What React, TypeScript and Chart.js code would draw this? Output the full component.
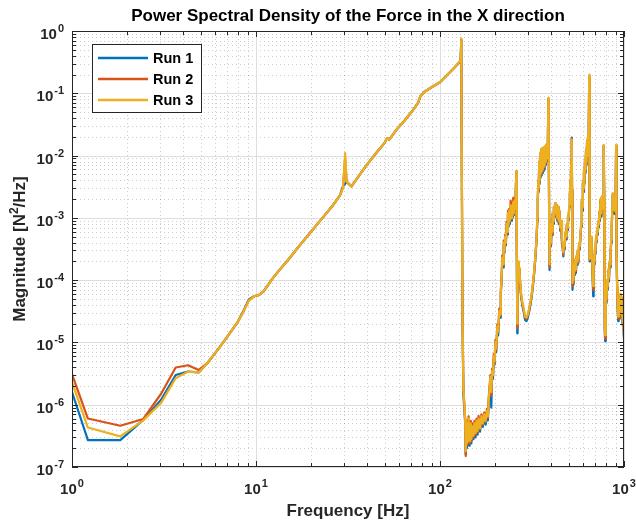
import React, { useEffect, useRef } from "react";
import { Chart, registerables } from "chart.js";

Chart.register(...registerables);

// ---------- data ----------
const FREQ = [
  1, 1.22, 1.83, 2.44, 3.05, 3.66, 4.27, 4.88, 5.49, 6.1,
  6.71, 7.32, 7.93, 8.54, 9.15, 9.76, 10.4, 11, 12.2, 13.4,
  15, 17, 20, 23, 26, 28.6, 29.7, 30.5, 31.1, 33,
  36, 40, 45, 50, 51.5, 53, 58, 64.4, 70, 76,
  78, 82, 90, 100, 110, 120, 129.5, 130.5, 132.5, 134,
  135.5, 137, 138, 139, 140, 141, 142, 143, 144, 145,
  146, 147, 148, 150, 152, 154, 156, 158, 160, 162,
  165, 168, 171, 174, 177, 180, 182, 184, 186, 188,
  190, 192, 194, 196, 198, 200, 202, 205, 207, 210,
  212, 214, 216, 218, 220, 222, 224, 226, 228, 230,
  232, 234, 236, 238, 240, 242, 244, 246, 248, 250,
  252, 254, 256, 258, 260, 261, 262, 263, 264, 266,
  268, 270, 273, 276, 280, 285, 290, 295, 300, 305,
  310, 315, 320, 325, 330, 335, 338, 340, 342, 344,
  346, 348, 350, 352, 354, 356, 358, 360, 362, 364,
  366, 368, 370, 372, 374, 376, 378, 380, 382, 385,
  388, 390, 392, 393, 395, 398, 401, 404, 407, 410,
  413, 416, 419, 422, 426, 430, 434, 438, 442, 446,
  450, 455, 460, 465, 468, 472, 476, 480, 484, 488,
  492, 496, 500, 504, 508, 512, 515, 518, 520, 522,
  524, 526, 529, 532, 536, 540, 544, 548, 552, 556,
  560, 565, 570, 575, 580, 585, 590, 594, 598, 602,
  606, 610, 614, 618, 622, 626, 630, 634, 638, 642,
  645, 647, 649, 651, 653, 656, 660, 664, 668, 672,
  676, 680, 684, 688, 692, 696, 700, 705, 710, 715,
  720, 725, 730, 735, 740, 745, 750, 755, 760, 765,
  770, 774, 778, 781, 784, 788, 790, 794, 798, 804,
  810, 816, 822, 828, 834, 840, 846, 852, 858, 864,
  868, 872, 876, 880, 885, 890, 895, 900, 903, 906,
  909, 913, 918, 924, 930, 936, 942, 948, 954, 960,
  966, 972, 978, 984, 990, 995, 1000,
];

const RUN1 = [
  1.6e-6, 2.7e-7, 2.7e-7, 5.7e-7, 1.2e-6, 3.0e-6, 3.4e-6, 3.3e-6, 4.8e-6, 7.2e-6,
  1.05e-5, 1.5e-5, 2.1e-5, 3.2e-5, 4.9e-5, 5.5e-5, 5.8e-5, 6.6e-5, 1.03e-4, 1.45e-4,
  2.15e-4, 3.4e-4, 6.1e-4, 1.0e-3, 1.55e-3, 2.3e-3, 3.2e-3, 3.5e-3, 3.8e-3, 3.2e-3,
  4.6e-3, 7.1e-3, 1.1e-2, 1.6e-2, 1.9e-2, 1.8e-2, 2.6e-2, 3.7e-2, 5.0e-2, 7.0e-2,
  8.8e-2, 1.05e-1, 1.25e-1, 1.5e-1, 2.0e-1, 2.6e-1, 3.3e-1, 7.2e-1, 2.5e-5, 1.5e-6,
  9e-7, 5e-7, 1.6e-7, 3.8e-7, 2e-7, 4.4e-7, 2.5e-7, 5.4e-7, 2.2e-7, 4.2e-7,
  2.6e-7, 4.5e-7, 2.4e-7, 4e-7, 2.8e-7, 4.5e-7, 3e-7, 5e-7, 3.3e-7, 5.4e-7,
  3.7e-7, 6e-7, 4.4e-7, 6.4e-7, 4.8e-7, 7.2e-7, 5.6e-7, 1.1e-6, 1.6e-6, 2.5e-6,
  9e-7, 3.2e-6, 2.6e-6, 5.5e-6, 4.4e-6, 9e-6, 7e-6, 1.6e-5, 1.3e-5, 2.9e-5,
  2.5e-5, 6e-5, 9e-5, 2.1e-4, 1.6e-4, 3.7e-4, 2.7e-4, 4.6e-4, 3.6e-4, 7.5e-4,
  5.4e-4, 1.1e-3, 7.2e-4, 1.2e-3, 8e-4, 1.4e-3, 9e-4, 1.4e-3, 1e-3, 1.6e-3,
  1.1e-3, 1.8e-3, 1.3e-3, 2.5e-3, 5.3e-3, 1.3e-3, 2.5e-4, 1.4e-5, 7e-5, 1.8e-4,
  1.25e-4, 1.5e-4, 8e-5, 5.4e-5, 4e-5, 3.1e-5, 2.3e-5, 2.2e-5, 2.5e-5, 3.1e-5,
  4e-5, 5.4e-5, 8.2e-5, 1.3e-4, 2.3e-4, 4.6e-4, 9e-4, 1.8e-3, 3.7e-3, 2.6e-3,
  7.5e-3, 3.5e-3, 1.05e-2, 4.4e-3, 1.15e-2, 4.8e-3, 1.25e-2, 5.2e-3, 1.25e-2, 5.6e-3,
  1.3e-2, 6e-3, 1.35e-2, 6.5e-3, 1.35e-2, 7e-3, 1.45e-2, 8e-3, 1.45e-2, 1e-2,
  8e-2, 1.4e-2, 9e-4, 1.45e-4, 2.6e-4, 4.5e-4, 3.5e-4, 7.5e-4, 5.3e-4, 1.15e-3,
  8e-4, 1.5e-3, 1e-3, 1.7e-3, 1.1e-3, 1.6e-3, 9e-4, 1.45e-3, 8e-4, 1.25e-3,
  6.2e-4, 8.5e-4, 4e-4, 3.1e-4, 2.4e-4, 3.6e-4, 3.1e-4, 5.4e-4, 4.5e-4, 7.2e-4,
  6.3e-4, 1e-3, 9e-4, 1.5e-3, 2.3e-3, 3.7e-3, 5.6e-3, 8.5e-3, 1.95e-2, 2.7e-3,
  4.2e-4, 7e-5, 1.1e-4, 8.5e-5, 1.6e-4, 1.2e-4, 2e-4, 1.3e-4, 2.3e-4, 1.75e-4,
  2.7e-4, 1.9e-4, 3.6e-4, 3.1e-4, 5e-4, 7.2e-4, 1.8e-3, 1.3e-3, 3.6e-3, 2.6e-3,
  5.4e-3, 3.5e-3, 8.3e-3, 5.2e-3, 1.2e-2, 7e-3, 1.7e-2, 8.8e-3, 2.1e-2, 1.05e-2,
  2.8e-2, 1.75e-1, 9e-3, 8.5e-4, 2e-4, 3.6e-4, 2.6e-4, 4.5e-4, 2.2e-4, 1.7e-4,
  1e-4, 5.5e-5, 1.3e-4, 2.2e-4, 1.75e-4, 3.1e-4, 2.6e-4, 4.5e-4, 4e-4, 6.3e-4,
  5.3e-4, 8.2e-4, 7e-4, 1.2e-3, 9e-4, 1.85e-3, 1.05e-3, 2e-3, 1.25e-3, 2.1e-3,
  1.8e-3, 3.2e-3, 1.42e-2, 1.8e-3, 2.6e-4, 1.6e-5, 1.05e-5, 2.6e-5, 5.2e-5, 4.3e-5,
  8.8e-5, 7e-5, 1.35e-4, 9.5e-5, 1.8e-4, 1.6e-4, 2.7e-4, 4e-4, 7.2e-4, 1.4e-3,
  2.3e-3, 1.3e-3, 2e-3, 1.2e-3, 1.8e-3, 1.15e-3, 2e-3, 1.45e-3, 2.8e-3, 1.42e-2,
  1.8e-3, 2.6e-4, 7e-5, 3.4e-5, 2.2e-5, 3e-5, 2.4e-5, 4e-5, 5.4e-5, 3.5e-5,
  5e-5, 3e-5, 2.4e-5, 1.9e-5, 2.2e-5, 1.6e-5, 1.15e-5,
];

const RUN2 = [
  3.1e-6, 6.0e-7, 4.6e-7, 5.9e-7, 1.5e-6, 3.96e-6, 4.3e-6, 3.6e-6, 4.8e-6, 7.2e-6,
  1.05e-5, 1.5e-5, 2.1e-5, 3.1e-5, 4.8e-5, 5.5e-5, 5.8e-5, 6.6e-5, 1.03e-4, 1.45e-4,
  2.15e-4, 3.4e-4, 6.1e-4, 1.0e-3, 1.55e-3, 2.3e-3, 3.1e-3, 9.0e-3, 3.8e-3, 3.2e-3,
  4.6e-3, 7.1e-3, 1.1e-2, 1.6e-2, 1.9e-2, 1.8e-2, 2.6e-2, 3.7e-2, 5.0e-2, 7.0e-2,
  8.8e-2, 1.05e-1, 1.25e-1, 1.5e-1, 2.0e-1, 2.6e-1, 3.35e-1, 7.3e-1, 2.8e-5, 1.7e-6,
  1.05e-6, 5.6e-7, 1.5e-7, 5e-7, 2.2e-7, 5.6e-7, 2.8e-7, 6.5e-7, 2.4e-7, 5.3e-7,
  2.8e-7, 5.5e-7, 2.6e-7, 5e-7, 3e-7, 5.5e-7, 3.3e-7, 6e-7, 3.6e-7, 6.6e-7,
  4e-7, 7e-7, 4.8e-7, 7.5e-7, 5.3e-7, 8.6e-7, 6.2e-7, 1.3e-6, 2e-6, 3e-6,
  1.4e-6, 3.8e-6, 2.9e-6, 6.5e-6, 4.8e-6, 1.1e-5, 7.6e-6, 1.95e-5, 1.45e-5, 3.5e-5,
  2.7e-5, 7e-5, 1.05e-4, 2.5e-4, 1.75e-4, 4.3e-4, 2.9e-4, 5.4e-4, 3.9e-4, 8.6e-4,
  5.8e-4, 1.3e-3, 7.8e-4, 1.4e-3, 8.8e-4, 1.9e-3, 9.7e-4, 1.75e-3, 1.05e-3, 2.1e-3,
  1.15e-3, 2e-3, 1.35e-3, 2.7e-3, 5.6e-3, 1.4e-3, 2.8e-4, 1.7e-5, 7.5e-5, 1.9e-4,
  1.35e-4, 1.55e-4, 8.5e-5, 5.8e-5, 4.3e-5, 3.3e-5, 2.5e-5, 2.4e-5, 2.7e-5, 3.3e-5,
  4.3e-5, 5.8e-5, 8.7e-5, 1.35e-4, 2.4e-4, 4.8e-4, 9.5e-4, 1.9e-3, 3.9e-3, 2.8e-3,
  7.8e-3, 3.8e-3, 1.08e-2, 4.7e-3, 1.18e-2, 5.2e-3, 1.28e-2, 5.6e-3, 1.28e-2, 6.1e-3,
  1.33e-2, 6.6e-3, 1.38e-2, 7.1e-3, 1.38e-2, 7.6e-3, 1.48e-2, 8.5e-3, 1.48e-2, 1.05e-2,
  8.2e-2, 1.45e-2, 9.5e-4, 1.6e-4, 2.8e-4, 4.7e-4, 3.7e-4, 7.8e-4, 5.6e-4, 1.18e-3,
  8.5e-4, 1.5e-3, 1.05e-3, 1.7e-3, 1.15e-3, 1.6e-3, 9.5e-4, 1.5e-3, 8.5e-4, 1.3e-3,
  6.6e-4, 8.8e-4, 4.2e-4, 3.3e-4, 2.6e-4, 3.8e-4, 3.3e-4, 5.7e-4, 4.8e-4, 7.6e-4,
  6.7e-4, 1.05e-3, 9.5e-4, 1.55e-3, 2.4e-3, 3.9e-3, 5.8e-3, 8.8e-3, 1.85e-2, 2.8e-3,
  4.6e-4, 8e-5, 1.2e-4, 9.2e-5, 1.7e-4, 1.3e-4, 2.1e-4, 1.4e-4, 2.4e-4, 1.9e-4,
  2.9e-4, 2e-4, 3.8e-4, 3.3e-4, 5.3e-4, 7.6e-4, 1.9e-3, 1.4e-3, 3.8e-3, 2.8e-3,
  5.7e-3, 3.8e-3, 8.7e-3, 5.6e-3, 1.25e-2, 7.5e-3, 1.75e-2, 9.4e-3, 2.15e-2, 1.1e-2,
  2.9e-2, 1.85e-1, 9.5e-3, 9.2e-4, 2.1e-4, 3.8e-4, 2.8e-4, 4.8e-4, 2.4e-4, 1.85e-4,
  1.1e-4, 7e-5, 1.4e-4, 2.4e-4, 1.9e-4, 3.3e-4, 2.8e-4, 4.8e-4, 4.3e-4, 6.7e-4,
  5.7e-4, 8.6e-4, 7.5e-4, 1.25e-3, 9.5e-4, 1.95e-3, 1.15e-3, 2.1e-3, 1.35e-3, 2.2e-3,
  1.9e-3, 3.4e-3, 1.45e-2, 1.9e-3, 2.8e-4, 1.8e-5, 1.15e-5, 2.8e-5, 5.6e-5, 4.7e-5,
  9.4e-5, 7.5e-5, 1.42e-4, 1.03e-4, 1.9e-4, 1.7e-4, 2.85e-4, 4.3e-4, 7.6e-4, 1.45e-3,
  2.4e-3, 1.4e-3, 2.1e-3, 1.3e-3, 1.9e-3, 1.25e-3, 2.1e-3, 1.5e-3, 2.9e-3, 1.45e-2,
  1.9e-3, 2.8e-4, 7.5e-5, 3.7e-5, 2.4e-5, 3.3e-5, 2.6e-5, 4.3e-5, 5.7e-5, 3.8e-5,
  5.2e-5, 3.3e-5, 2.6e-5, 2.1e-5, 2.4e-5, 1.7e-5, 1.25e-5,
];

const RUN3 = [
  2.3e-6, 4.3e-7, 3.1e-7, 5.6e-7, 1.07e-6, 2.66e-6, 3.4e-6, 3.3e-6, 4.8e-6, 7.2e-6,
  1.05e-5, 1.5e-5, 2.1e-5, 3.1e-5, 4.7e-5, 5.5e-5, 5.8e-5, 6.6e-5, 1.03e-4, 1.45e-4,
  2.15e-4, 3.4e-4, 6.1e-4, 1.0e-3, 1.55e-3, 2.3e-3, 3.0e-3, 1.1e-2, 3.8e-3, 3.2e-3,
  4.6e-3, 7.1e-3, 1.1e-2, 1.6e-2, 1.9e-2, 1.8e-2, 2.6e-2, 3.7e-2, 5.0e-2, 7.0e-2,
  8.8e-2, 1.05e-1, 1.25e-1, 1.5e-1, 2.0e-1, 2.6e-1, 3.4e-1, 7.6e-1, 3e-5, 1.8e-6,
  1.1e-6, 6e-7, 1.8e-7, 4.5e-7, 2.4e-7, 5e-7, 3e-7, 6e-7, 2.6e-7, 4.8e-7,
  3e-7, 5e-7, 2.8e-7, 4.5e-7, 3.2e-7, 5e-7, 3.5e-7, 5.5e-7, 3.8e-7, 6e-7,
  4.2e-7, 6.5e-7, 5e-7, 7e-7, 5.5e-7, 8e-7, 6.5e-7, 1.2e-6, 1.8e-6, 2.8e-6,
  1.6e-6, 3.5e-6, 3e-6, 6e-6, 5e-6, 1e-5, 8e-6, 1.8e-5, 1.5e-5, 3.2e-5,
  2.8e-5, 6.5e-5, 1e-4, 2.3e-4, 1.8e-4, 4e-4, 3e-4, 5e-4, 4e-4, 8e-4,
  6e-4, 1.2e-3, 8e-4, 1.3e-3, 9e-4, 1.6e-3, 1e-3, 1.5e-3, 1.1e-3, 1.8e-3,
  1.2e-3, 1.9e-3, 1.4e-3, 2.6e-3, 5.5e-3, 1.5e-3, 3e-4, 2e-5, 8e-5, 2e-4,
  1.4e-4, 1.6e-4, 9e-5, 6e-5, 4.5e-5, 3.5e-5, 2.6e-5, 2.5e-5, 2.8e-5, 3.5e-5,
  4.5e-5, 6e-5, 9e-5, 1.4e-4, 2.5e-4, 5e-4, 1e-3, 2e-3, 4e-3, 3e-3,
  8e-3, 4e-3, 1.1e-2, 5e-3, 1.2e-2, 5.5e-3, 1.3e-2, 6e-3, 1.3e-2, 6.5e-3,
  1.35e-2, 7e-3, 1.4e-2, 7.5e-3, 1.4e-2, 8e-3, 1.5e-2, 9e-3, 1.5e-2, 1.1e-2,
  8.3e-2, 1.5e-2, 1e-3, 1.8e-4, 3e-4, 5e-4, 4e-4, 8e-4, 6e-4, 1.2e-3,
  9e-4, 1.5e-3, 1.1e-3, 1.7e-3, 1.2e-3, 1.6e-3, 1e-3, 1.5e-3, 9e-4, 1.3e-3,
  7e-4, 9e-4, 4.5e-4, 3.5e-4, 2.8e-4, 4e-4, 3.5e-4, 6e-4, 5e-4, 8e-4,
  7e-4, 1.1e-3, 1e-3, 1.6e-3, 2.5e-3, 4e-3, 6e-3, 9e-3, 1.8e-2, 3e-3,
  5e-4, 9e-5, 1.3e-4, 1e-4, 1.8e-4, 1.4e-4, 2.2e-4, 1.5e-4, 2.5e-4, 2e-4,
  3e-4, 2.2e-4, 4e-4, 3.5e-4, 5.5e-4, 8e-4, 2e-3, 1.5e-3, 4e-3, 3e-3,
  6e-3, 4e-3, 9e-3, 6e-3, 1.3e-2, 8e-3, 1.8e-2, 1e-2, 2.2e-2, 1.2e-2,
  3e-2, 1.97e-1, 1e-2, 1e-3, 2.2e-4, 4e-4, 3e-4, 5e-4, 2.5e-4, 2e-4,
  1.2e-4, 8e-5, 1.5e-4, 2.5e-4, 2e-4, 3.5e-4, 3e-4, 5e-4, 4.5e-4, 7e-4,
  6e-4, 9e-4, 8e-4, 1.3e-3, 1e-3, 2e-3, 1.2e-3, 2.2e-3, 1.4e-3, 2.3e-3,
  2e-3, 3.5e-3, 1.48e-2, 2e-3, 3e-4, 2e-5, 1.3e-5, 3e-5, 6e-5, 5e-5,
  1e-4, 8e-5, 1.5e-4, 1.1e-4, 2e-4, 1.8e-4, 3e-4, 4.5e-4, 8e-4, 1.5e-3,
  2.5e-3, 1.5e-3, 2.2e-3, 1.4e-3, 2e-3, 1.3e-3, 2.2e-3, 1.6e-3, 3e-3, 1.48e-2,
  2e-3, 3e-4, 8e-5, 4e-5, 2.6e-5, 3.5e-5, 2.8e-5, 4.5e-5, 6e-5, 4e-5,
  5.5e-5, 3.5e-5, 2.8e-5, 2.2e-5, 2.5e-5, 1.8e-5, 1.3e-5,
];

const SERIES_NAMES = ["Run 1", "Run 2", "Run 3"];
const SERIES_COLORS = ["#0072BD", "#D95319", "#EDB120"];
const X_TICK_EXPONENTS = [0, 1, 2, 3];
const Y_TICK_EXPONENTS = [0, -1, -2, -3, -4, -5, -6, -7];
const TITLE = "Power Spectral Density of the Force in the X direction";
const X_LABEL = "Frequency [Hz]";
const Y_LABEL_PARTS = ["Magnitude [N", "2", "/Hz]"];

const FONT = '"Liberation Sans", Arial, Helvetica, sans-serif';
const AXIS_COLOR = "#262626";

function drawPower(ctx: CanvasRenderingContext2D, exp: string, x: number, baseline: number, align: "center" | "right") {
  const baseFont = `bold 15px ${FONT}`;
  const supFont = `bold 11px ${FONT}`;
  ctx.font = baseFont;
  const wb = ctx.measureText("10").width;
  ctx.font = supFont;
  const we = ctx.measureText(exp).width;
  const total = wb + 1 + we;
  const start = align === "center" ? x - total / 2 : x - total;
  ctx.textAlign = "left";
  ctx.textBaseline = "alphabetic";
  ctx.font = baseFont;
  ctx.fillText("10", start, baseline);
  ctx.font = supFont;
  ctx.fillText(exp, start + wb + 1, baseline - 7);
}

const decorPlugin = {
  id: "matlabDecor",
  beforeDatasetsDraw(chart: any) {
    const { ctx, chartArea: a, scales } = chart;
    const xs = scales.x;
    const ys = scales.y;
    ctx.save();
    ctx.fillStyle = "#ffffff";
    ctx.fillRect(a.left, a.top, a.right - a.left, a.bottom - a.top);
    // minor grid (dotted)
    ctx.strokeStyle = "rgba(0,0,0,0.2)";
    ctx.lineWidth = 1;
    ctx.setLineDash([1, 3]);
    ctx.beginPath();
    for (let e = X_TICK_EXPONENTS[0]; e < X_TICK_EXPONENTS[X_TICK_EXPONENTS.length - 1]; e++) {
      for (let m = 2; m <= 9; m++) {
        const px = Math.round(xs.getPixelForValue(m * Math.pow(10, e))) + 0.5;
        ctx.moveTo(px, a.top);
        ctx.lineTo(px, a.bottom);
      }
    }
    for (let e = -7; e < 0; e++) {
      for (let m = 2; m <= 9; m++) {
        const py = Math.round(ys.getPixelForValue(m * Math.pow(10, e))) + 0.5;
        ctx.moveTo(a.left, py);
        ctx.lineTo(a.right, py);
      }
    }
    ctx.stroke();
    // major grid
    ctx.setLineDash([]);
    ctx.strokeStyle = "#dedede";
    ctx.beginPath();
    X_TICK_EXPONENTS.forEach((e) => {
      const px = Math.round(xs.getPixelForValue(Math.pow(10, e))) + 0.5;
      ctx.moveTo(px, a.top);
      ctx.lineTo(px, a.bottom);
    });
    Y_TICK_EXPONENTS.forEach((e) => {
      const py = Math.round(ys.getPixelForValue(Math.pow(10, e))) + 0.5;
      ctx.moveTo(a.left, py);
      ctx.lineTo(a.right, py);
    });
    ctx.stroke();
    ctx.restore();
  },
  afterDatasetsDraw(chart: any) {
    const { ctx, chartArea: a, scales } = chart;
    const xs = scales.x;
    const ys = scales.y;
    ctx.save();
    // axis box
    ctx.strokeStyle = AXIS_COLOR;
    ctx.lineWidth = 1;
    ctx.setLineDash([]);
    ctx.strokeRect(Math.round(a.left) + 0.5, Math.round(a.top) + 0.5, Math.round(a.right - a.left) - 1, Math.round(a.bottom - a.top) - 1);
    // ticks (inward, all four sides)
    ctx.beginPath();
    const majLen = 6;
    const minLen = 4;
    for (let e = X_TICK_EXPONENTS[0]; e <= X_TICK_EXPONENTS[X_TICK_EXPONENTS.length - 1]; e++) {
      for (let m = 1; m <= 9; m++) {
        const v = m * Math.pow(10, e);
        if (v > 1000) break;
        const px = Math.round(xs.getPixelForValue(v)) + 0.5;
        const len = m === 1 ? majLen : minLen;
        ctx.moveTo(px, a.bottom);
        ctx.lineTo(px, a.bottom - len);
        ctx.moveTo(px, a.top);
        ctx.lineTo(px, a.top + len);
      }
    }
    for (let e = -7; e <= 0; e++) {
      for (let m = 1; m <= 9; m++) {
        const v = m * Math.pow(10, e);
        if (v > 1) break;
        const py = Math.round(ys.getPixelForValue(v)) + 0.5;
        const len = m === 1 ? majLen : minLen;
        ctx.moveTo(a.left, py);
        ctx.lineTo(a.left + len, py);
        ctx.moveTo(a.right, py);
        ctx.lineTo(a.right - len, py);
      }
    }
    ctx.stroke();
    // tick labels
    ctx.fillStyle = AXIS_COLOR;
    X_TICK_EXPONENTS.forEach((e) => {
      const px = xs.getPixelForValue(Math.pow(10, e));
      drawPower(ctx, String(e), px, a.bottom + 27, "center");
    });
    Y_TICK_EXPONENTS.forEach((e) => {
      const py = ys.getPixelForValue(Math.pow(10, e));
      drawPower(ctx, String(e), a.left - 8, py + 8, "right");
    });
    // axis titles
    ctx.fillStyle = AXIS_COLOR;
    ctx.font = `bold 17px ${FONT}`;
    ctx.textAlign = "center";
    ctx.textBaseline = "alphabetic";
    ctx.fillText(X_LABEL, (a.left + a.right) / 2, 516);
    // y label with superscript
    const mainFont = `bold 17px ${FONT}`;
    const supFont = `bold 12px ${FONT}`;
    ctx.font = mainFont;
    const w0 = ctx.measureText(Y_LABEL_PARTS[0]).width;
    const w2 = ctx.measureText(Y_LABEL_PARTS[2]).width;
    ctx.font = supFont;
    const w1 = ctx.measureText(Y_LABEL_PARTS[1]).width;
    const totalW = w0 + w1 + w2;
    ctx.save();
    ctx.translate(25, (a.top + a.bottom) / 2);
    ctx.rotate(-Math.PI / 2);
    ctx.textAlign = "left";
    let cx = -totalW / 2;
    ctx.font = mainFont;
    ctx.fillText(Y_LABEL_PARTS[0], cx, 0);
    cx += w0;
    ctx.font = supFont;
    ctx.fillText(Y_LABEL_PARTS[1], cx, -7);
    cx += w1;
    ctx.font = mainFont;
    ctx.fillText(Y_LABEL_PARTS[2], cx, 0);
    ctx.restore();
    // title
    ctx.fillStyle = "#000000";
    ctx.font = `bold 17px ${FONT}`;
    ctx.textAlign = "center";
    ctx.fillText(TITLE, (a.left + a.right) / 2, 21);
    // legend
    const lx = 92.5;
    const ly = 44.5;
    ctx.fillStyle = "#ffffff";
    ctx.fillRect(lx, ly, 109, 68);
    ctx.strokeStyle = AXIS_COLOR;
    ctx.lineWidth = 1;
    ctx.strokeRect(lx, ly, 109, 68);
    SERIES_NAMES.forEach((name, i) => {
      const rowY = 58 + i * 21;
      ctx.strokeStyle = SERIES_COLORS[i];
      ctx.lineWidth = 2.5;
      ctx.beginPath();
      ctx.moveTo(98, rowY);
      ctx.lineTo(148, rowY);
      ctx.stroke();
      ctx.fillStyle = "#000000";
      ctx.font = `bold 14.5px ${FONT}`;
      ctx.textAlign = "left";
      ctx.textBaseline = "middle";
      ctx.fillText(name, 153, rowY + 1);
    });
    ctx.restore();
  },
};

export default function App() {
  const canvasRef = useRef<HTMLCanvasElement | null>(null);

  useEffect(() => {
    if (!canvasRef.current) return;
    const runs = [RUN1, RUN2, RUN3];
    const chart = new Chart(canvasRef.current, {
      type: "line",
      data: {
        datasets: runs.map((vals, i) => ({
          label: SERIES_NAMES[i],
          data: FREQ.map((f, k) => ({ x: f, y: vals[k] })),
          borderColor: SERIES_COLORS[i],
          backgroundColor: SERIES_COLORS[i],
          borderWidth: 2.2,
          pointRadius: 0,
          tension: 0,
          fill: false,
          borderJoinStyle: "round" as const,
          order: 3 - i,
        })),
      },
      options: {
        animation: false,
        responsive: true,
        maintainAspectRatio: false,
        devicePixelRatio: 1,
        events: [],
        layout: { padding: { left: 72, right: 12, top: 31, bottom: 58 } },
        plugins: {
          legend: { display: false },
          tooltip: { enabled: false },
          title: { display: false },
        },
        scales: {
          x: { type: "logarithmic", min: 1, max: 1000, display: false },
          y: { type: "logarithmic", min: 1e-7, max: 1, display: false },
        },
      },
      plugins: [decorPlugin],
    });
    return () => chart.destroy();
  }, []);

  return (
    <div style={{ position: "absolute", left: 0, top: 0, width: 636, height: 525, background: "#fff" }}>
      <canvas ref={canvasRef} />
    </div>
  );
}
